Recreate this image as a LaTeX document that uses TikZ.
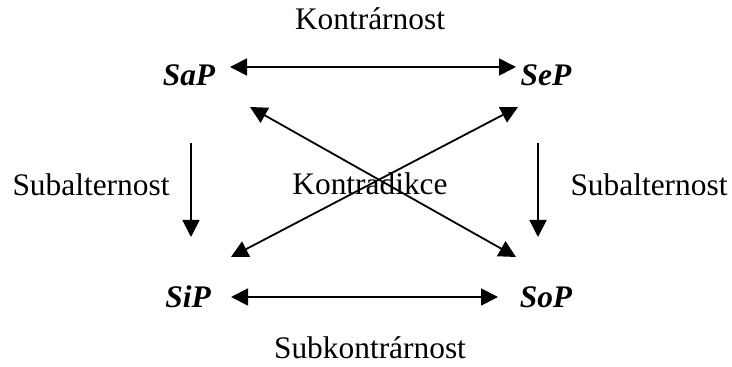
\documentclass[tikz,border=0pt]{standalone}
\usepackage{fontspec}
\setmainfont{Liberation Serif}
\usetikzlibrary{arrows.meta}

\begin{document}
\begin{tikzpicture}[x=0.5pt, y=-0.5pt,
                    term/.style={font=\fontsize{15.7}{18}\selectfont\bfseries\itshape, inner sep=0pt, anchor=base},
                    relation/.style={font=\fontsize{15.7}{18}\selectfont, inner sep=0pt, anchor=base},
                    link/.style={line width=0.9pt, -{Triangle[length=8.5pt,width=8.5pt]}},
                    twoway/.style={line width=0.9pt, {Triangle[length=8.5pt,width=8.5pt]}-{Triangle[length=8.5pt,width=8.5pt]}}
                    ]
\useasboundingbox (0,0) rectangle (732,367);

\node[term] (SaP) at (189,86)  {SaP};
\node[term] (SeP) at (546,86)  {SeP};
\node[term] (SiP) at (188,308) {SiP};
\node[term] (SoP) at (546,308) {SoP};

\node[relation] (kontrar)    at (370,30)  {Kontrárnost};
\node[relation] (subkontrar) at (370,359) {Subkontrárnost};
\node[relation] (kontrad)    at (370,195) {Kontradikce};
\node[relation] (subaltL)    at (91,196)  {Subalternost};
\node[relation] (subaltR)    at (649,196) {Subalternost};

%% square
\draw[twoway] ([shift={(41,-19)}]SaP.base) -- ([shift={(-30,-19)}]SeP.base);
\draw[twoway] ([shift={(43,-11)}]SiP.base) -- ([shift={(-48,-11)}]SoP.base);
\draw[link]   ([shift={(2,57)}]SaP.base)   -- ([shift={(3,-71)}]SiP.base);
\draw[link]   ([shift={(-8,57)}]SeP.base)  -- ([shift={(-8,-71)}]SoP.base);
%% diagonals
\draw[twoway] ([shift={(61,21)}]SaP.base)  -- ([shift={(-30,-51)}]SoP.base);
\draw[twoway] ([shift={(-28,21)}]SeP.base) -- ([shift={(43,-51)}]SiP.base);
\end{tikzpicture}
\end{document}
